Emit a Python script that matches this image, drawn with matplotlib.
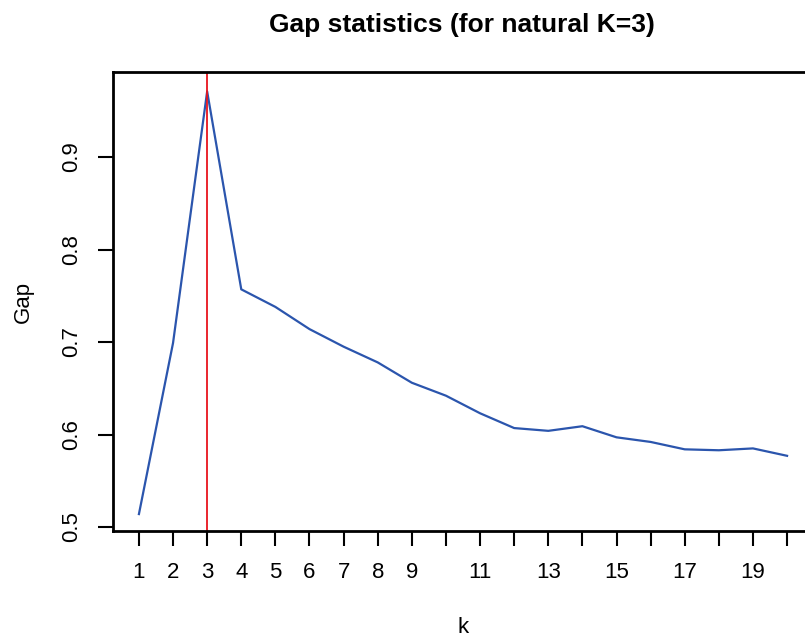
import matplotlib
matplotlib.use('Agg')
import matplotlib.pyplot as plt
import numpy as np

# valeurs
k = np.arange(1, 21)
gap = [0.514, 0.699, 0.971, 0.757, 0.738, 0.714, 0.695, 0.678, 0.656, 0.642,
       0.623, 0.607, 0.604, 0.609, 0.597, 0.592, 0.584, 0.583, 0.585, 0.577]
k_natural = 3
xtick_pos = list(range(1, 21))
xtick_lab = ['1', '2', '3', '4', '5', '6', '7', '8', '9', '', '11', '', '13', '',
             '15', '', '17', '', '19', '']
ytick_pos = [0.5, 0.6, 0.7, 0.8, 0.9]

plt.rcParams['font.family'] = ['Liberation Sans', 'DejaVu Sans']

fig = plt.figure(figsize=(8.05, 6.36), dpi=100)
W, H = 805, 636
# boite des axes en pixels: gauche 113, haut 72, bas 531, droite ~813 (coupée)
ax = fig.add_axes([113 / W, (H - 531) / H, (813 - 113) / W, (531 - 72) / H])

ax.plot(k, gap, color='#2b55ad', lw=1.6)
ax.axvline(k_natural, color='#e8141c', lw=1.3)

ax.set_xlim(0.24, 20.76)
ax.set_ylim(0.4957, 0.992)
ax.set_xticks(xtick_pos)
ax.set_xticklabels(xtick_lab)
ax.set_yticks(ytick_pos)
ax.set_yticklabels(['0.5', '0.6', '0.7', '0.8', '0.9'])

for s in ax.spines.values():
    s.set_linewidth(2)
ax.tick_params(axis='both', direction='out', length=10.5, width=1.5,
               labelsize=16, pad=12)
ax.tick_params(axis='y', labelrotation=90)
for lab in ax.get_yticklabels():
    lab.set_va('center')

ax.set_title('Gap statistics (for natural K=3)', fontsize=19, fontweight='bold',
             x=(462 - 113) / (813 - 113), y=1.0, pad=29)
ax.set_xlabel('k', fontsize=16, labelpad=24)
ax.set_ylabel('Gap', fontsize=16, labelpad=19)

fig.savefig('out.png', dpi=100)
